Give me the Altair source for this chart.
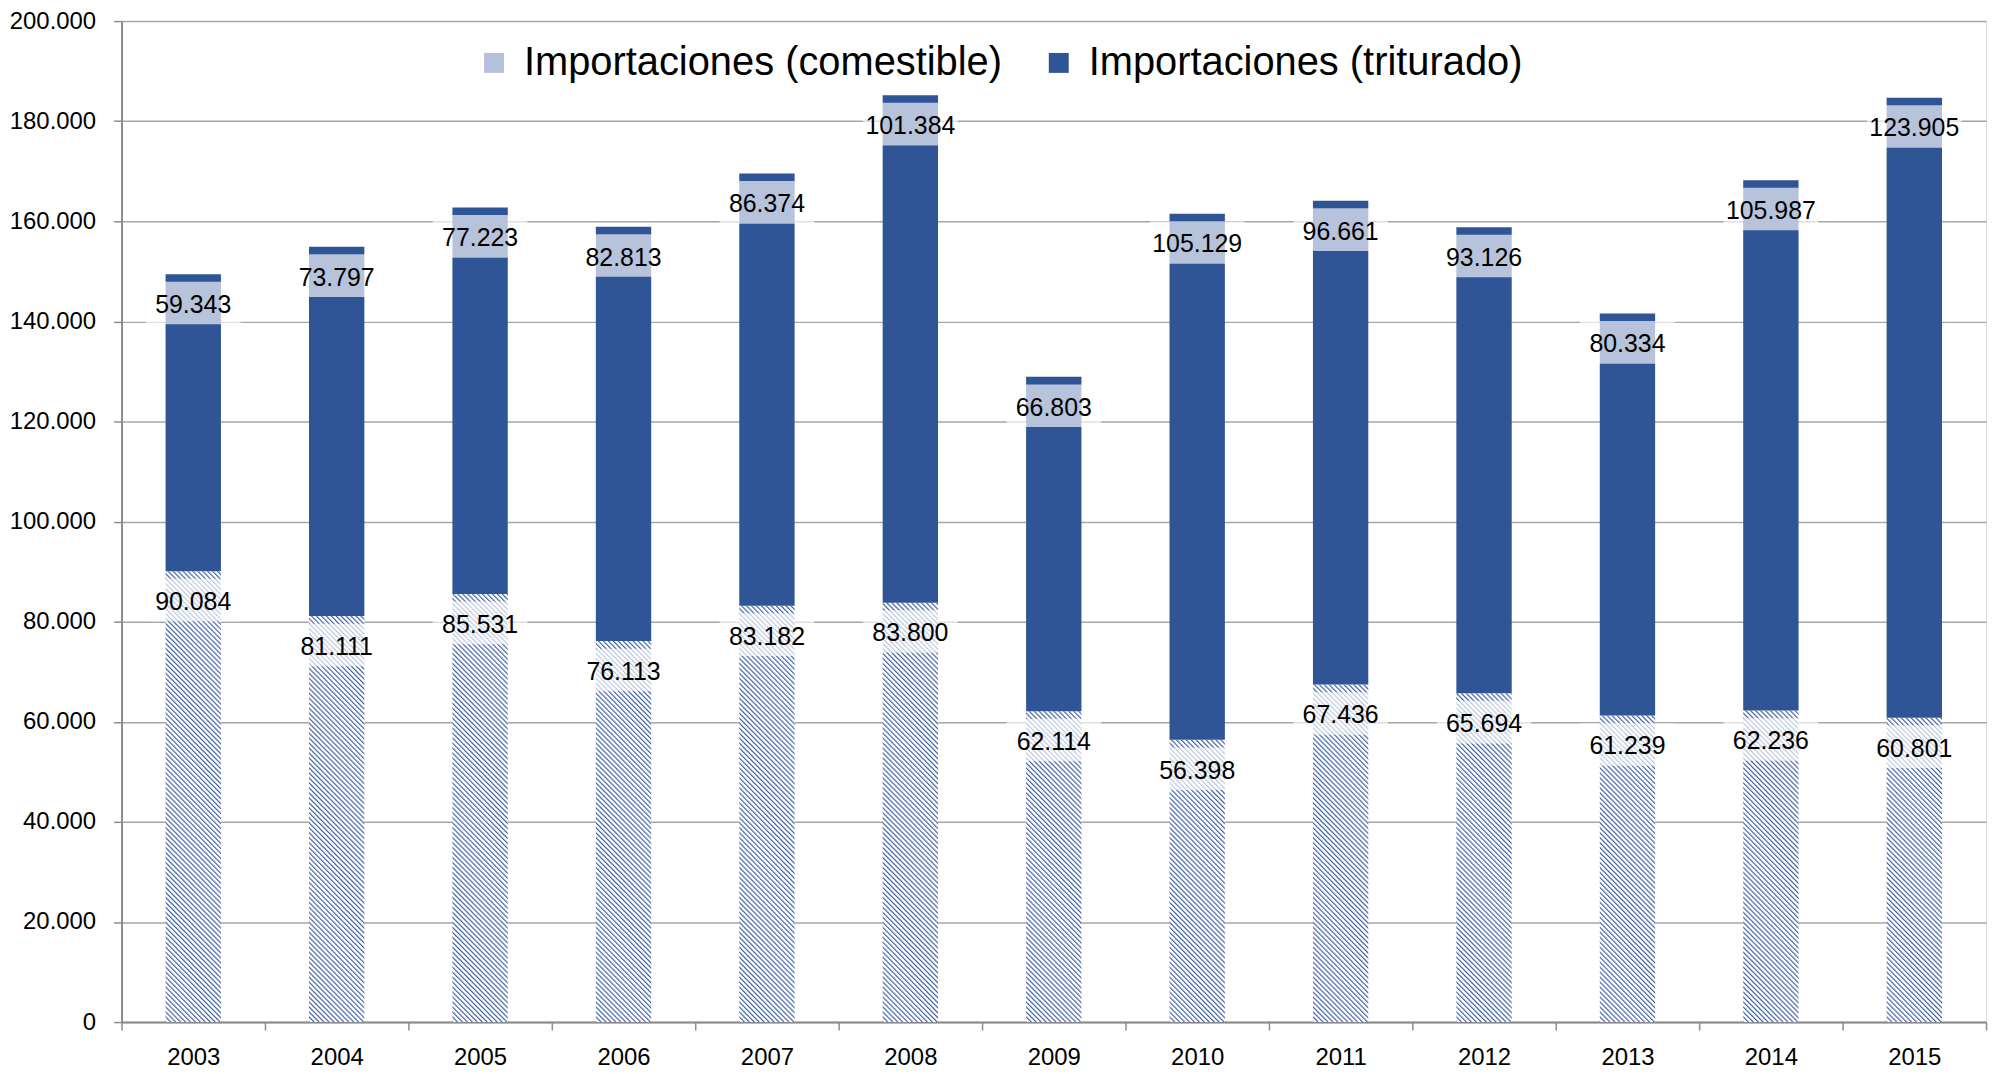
import altair as alt
import pandas as pd

# ---------------- data ----------------
years = [str(y) for y in range(2003, 2016)]
comestible = [90084, 81111, 85531, 76113, 83182, 83800, 62114, 56398,
              67436, 65694, 61239, 62236, 60801]
triturado = [59343, 73797, 77223, 82813, 86374, 101384, 66803, 105129,
             96661, 93126, 80334, 105987, 123905]
series = ["Importaciones (comestible)", "Importaciones (triturado)"]
y_ticks = list(range(0, 200001, 20000))

rows = []
for yr, c, t in zip(years, comestible, triturado):
    rows.append({"year": yr, "series": series[0], "value": c, "lo": 0, "hi": c})
    rows.append({"year": yr, "series": series[1], "value": t, "lo": c, "hi": c + t})
df = pd.DataFrame(rows)

# ---------------- style ----------------
PLOT_W, PLOT_H = 1872, 1005
Y_MAX = 200000
BAR_W = 56
DARK = "#2f5597"
HATCH_LINE = "#3d5fa3"
HATCH_AVG = "#b3c1dc"
FONT = "Liberation Sans"
PERIOD = 5.0

# diagonal hatch built as a per-bar linear gradient
stops = []
for k in range(120):
    stops.append(f"{{offset:min(1,{k}*datum.gp),color:'{HATCH_LINE}'}}")
    stops.append(f"{{offset:min(1,{k + 0.4}*datum.gp),color:'#ffffff'}}")
    stops.append(f"{{offset:min(1,{k + 0.75}*datum.gp),color:'#ffffff'}}")
grad_expr = ("{gradient:'linear',x1:0,y1:1,x2:datum.gx2,y2:datum.gy2,stops:["
             + ",".join(stops) + "]}")

fmt = "replace(format(datum.value, ','), ',', '.')"

x_enc = alt.X(
    "year:N", sort=years,
    scale=alt.Scale(paddingInner=0, paddingOuter=0),
    axis=alt.Axis(title=None, labelAngle=0, tickBand="extent", grid=False,
                  labelFont=FONT, labelFontSize=24, labelColor="#000000",
                  labelPadding=16, tickSize=8, tickColor="#8c8c8c", tickWidth=1.5,
                  domainColor="#8c8c8c", domainWidth=2),
)
y_scale = alt.Scale(domain=[0, Y_MAX], nice=False, zero=True)
y_enc = alt.Y(
    "lo:Q", scale=y_scale,
    axis=alt.Axis(title=None, values=y_ticks, labelExpr=fmt,
                  labelFont=FONT, labelFontSize=24, labelColor="#000000",
                  labelPadding=18, tickSize=8, tickColor="#8c8c8c", tickWidth=1.5,
                  domainColor="#8c8c8c", domainWidth=2,
                  grid=True, gridColor="#a6a6a6", gridWidth=1.5),
)

base = alt.Chart(df)

bars_com = base.transform_filter(
    alt.datum.series == series[0]
).transform_calculate(
    h=f"datum.value * {PLOT_H} / {Y_MAX}"
).transform_calculate(
    gp=f"{PERIOD} / ({BAR_W} + datum.h)",
    ga=f"({BAR_W} + datum.h) / ({BAR_W * BAR_W} + datum.h * datum.h)",
).transform_calculate(
    gx2=f"datum.ga * {BAR_W}",
    gy2="1 - datum.ga * datum.h",
).mark_bar(width=alt.RelativeBandSize(0.386), strokeWidth=0).encode(
    x=x_enc, y=y_enc, y2="hi:Q",
    fill=alt.value({"expr": grad_expr}),
)

bars_tri = base.transform_filter(
    alt.datum.series == series[1]
).mark_bar(width=alt.RelativeBandSize(0.386), strokeWidth=0).encode(
    x=x_enc, y=y_enc, y2="hi:Q",
    color=alt.Color(
        "series:N",
        scale=alt.Scale(domain=series, range=[HATCH_AVG, DARK]),
        legend=alt.Legend(title=None, orient="none", legendX=354, legendY=22,
                          direction="horizontal", symbolType="square",
                          symbolSize=400, symbolStrokeWidth=0, symbolOpacity=1,
                          labelFont=FONT, labelFontSize=40, labelColor="#000000",
                          labelOffset=10, columnPadding=36, labelLimit=0,
                          padding=0),
    ),
)

boxes = base.mark_point(
    shape="M-1,-0.45H1V0.45H-1Z", size=95 * 95, filled=True,
    fill="#ffffff", opacity=0.65, strokeWidth=0, yOffset=29,
).encode(x=x_enc, y=alt.Y("hi:Q", scale=y_scale))

labels = base.transform_calculate(
    label=fmt
).mark_text(
    font=FONT, fontSize=25, color="#000000", baseline="middle",
    align="center", yOffset=31,
).encode(x=x_enc, y=alt.Y("hi:Q", scale=y_scale), text="label:N")

chart = alt.layer(bars_com, bars_tri, boxes, labels).properties(
    width=PLOT_W, height=PLOT_H,
    padding={"left": 114, "top": 11, "right": 3, "bottom": 47},
    autosize=alt.AutoSizeParams(type="none"),
).configure_view(stroke=None).configure(background="#ffffff")

chart.save("out.html", embed_options={"renderer": "svg", "actions": False})
